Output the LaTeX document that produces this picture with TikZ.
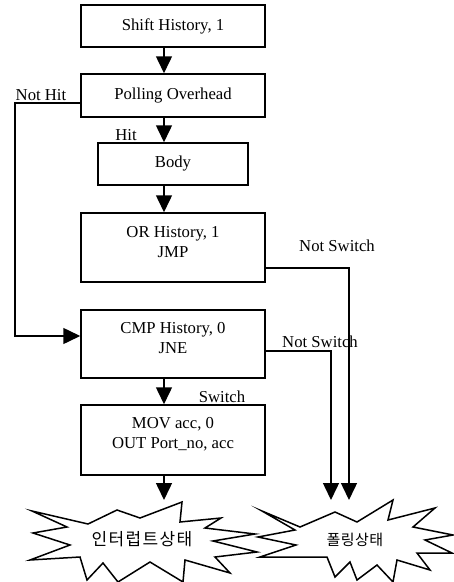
\documentclass[tikz,border=0pt]{standalone}
\usepackage{fontspec}
\setmainfont{Liberation Serif}
\newfontfamily\krfont[LetterSpace=8]{Noto Sans CJK KR}
\newfontfamily\krfontb[LetterSpace=3]{Noto Sans CJK KR}
\usetikzlibrary{arrows.meta}
\begin{document}
\begin{tikzpicture}[x=1pt,y=-1pt,
  lw/.style={line width=1.5pt},
  box/.style={draw,lw,inner sep=0pt,minimum width=184pt},
  txt/.style={inner sep=0pt,align=center,font=\fontsize{16.7}{20.5}\selectfont},
  lbl/.style={inner sep=0pt,font=\fontsize{16.7}{20}\selectfont},
  arr/.style={lw,-{Triangle[width=16pt,length=17pt]}},
  burst/.style={draw,lw,fill=white,miter limit=20}]
\useasboundingbox (0,0) rectangle (454,582);
% boxes
\node[box,minimum height=42pt] (shift) at (173,26) {};
\node[box,minimum height=43pt] (poll) at (173,95.5) {};
\node[box,minimum width=150pt,minimum height=42pt] (body) at (173,164) {};
\node[box,minimum height=69pt] (orh) at (173,247.5) {};
\node[box,minimum height=68pt] (cmp) at (173,344) {};
\node[box,minimum height=70pt] (mov) at (173,440) {};
\node[txt] (shiftt) at (shift.center) {Shift History, 1};
\node[txt] (pollt) at (poll.center) {Polling Overhead};
\node[txt] (bodyt) at (body.center) {Body};
\node[txt] (orht) at (173,242) {OR History, 1\\JMP};
\node[txt] (cmpt) at (173,338) {CMP History, 0\\JNE};
\node[txt] (movt) at (173,434) {MOV acc, 0\\OUT Port\_no, acc};
% bursts
\draw[burst] (32,511) -- (88,524) -- (117,510) -- (140,518) -- (182,502) -- (180,522)
  -- (221,518) -- (205,528) -- (255,534) -- (213,541) -- (257,552) -- (215,557)
  -- (230,573) -- (185,560) -- (183,582) -- (150,562) -- (118,582) -- (103,563)
  -- (87,580) -- (80,557) -- (30,560) -- (70,545) -- (33,533) -- (67,527) -- cycle;
\draw[burst] (262,511) -- (300,527) -- (335,512) -- (357,522) -- (393,500) -- (388,520)
  -- (435,508) -- (413,527) -- (453,535) -- (425,540) -- (452,553) -- (417,553)
  -- (430,570) -- (397,560) -- (393,582) -- (377,565) -- (357,580) -- (350,562)
  -- (335,577) -- (327,557) -- (260,557) -- (296,545) -- (258,537) -- (295,530) -- cycle;
\node[inner sep=0pt,font=\krfont\fontsize{17}{18}\selectfont] (intr) at (142,539) {인터럽트상태};
\node[inner sep=0pt,font=\krfontb\fontsize{15}{16}\selectfont] (pollst) at (355,540) {폴링상태};
% arrow column
\coordinate (ax) at (164,0);
\coordinate (t1) at (164,500);
\coordinate (t2) at (331,500);
\coordinate (t3) at (349,500);
\draw[arr] (shift.south -| ax) -- (poll.north -| ax);
\draw[arr] (poll.south -| ax) -- (body.north -| ax);
\draw[arr] (body.south -| ax) -- (orh.north -| ax);
\draw[arr] (cmp.south -| ax) -- (mov.north -| ax);
\draw[arr] (mov.south -| ax) -- (t1);
% not hit
\coordinate (nh) at (15,103);
\coordinate (nh2) at (15,336);
\draw[arr] (poll.west |- nh) -- (nh) -- (nh2) -- (cmp.west |- nh2);
% not switch
\coordinate (ns1) at (349,268);
\coordinate (ns2) at (331,351);
\draw[arr] (orh.east |- ns1) -- (ns1) -- (t3);
\draw[arr] (cmp.east |- ns2) -- (ns2) -- (t2);
% labels
\node[lbl] (lnh) at (41,95) {Not Hit};
\node[lbl] (lhit) at (126,135) {Hit};
\node[lbl] (lns1) at (337,246) {Not Switch};
\node[lbl] (lns2) at (320,342) {Not Switch};
\node[lbl] (lsw) at (222,397) {Switch};
\end{tikzpicture}
\end{document}
